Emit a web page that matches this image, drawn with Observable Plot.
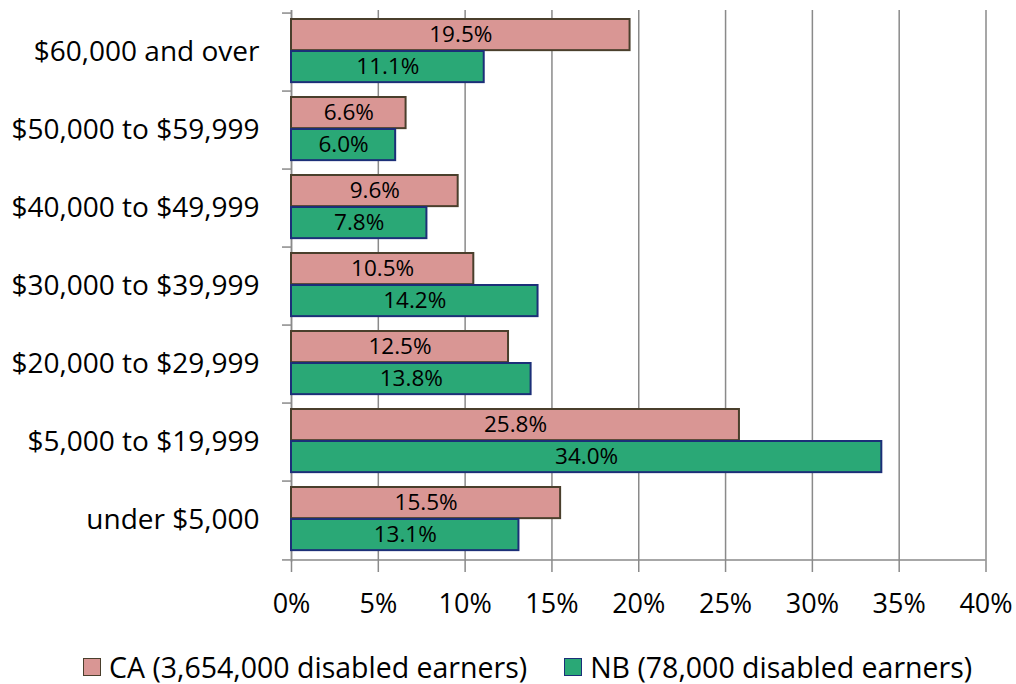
<!DOCTYPE html>
<html>
<head>
<meta charset="utf-8">
<script src="https://cdn.jsdelivr.net/npm/d3@7"></script>
<script src="https://cdn.jsdelivr.net/npm/@observablehq/plot@0.6"></script>
<style>
  html, body { margin: 0; padding: 0; background: #fff; }
  body { width: 1016px; height: 684px; overflow: hidden; font-family: "Open Sans", sans-serif; }
  #legend { display: flex; align-items: center; height: 34px; padding-top: 14px; padding-left: 83px; gap: 37px; font-size: 28.5px; color: #000; }
  .item { display: flex; align-items: center; gap: 8px; white-space: nowrap; }
  .sw { width: 16px; height: 16px; border: 1.5px solid; }
</style>
</head>
<body>
<div id="chart"></div>
<div id="legend"></div>
<script>
const categories = ["$60,000 and over", "$50,000 to $59,999", "$40,000 to $49,999", "$30,000 to $39,999", "$20,000 to $29,999", "$5,000 to $19,999", "under $5,000"];
const caValues = [19.5, 6.6, 9.6, 10.5, 12.5, 25.8, 15.5];
const nbValues = [11.1, 6.0, 7.8, 14.2, 13.8, 34.0, 13.1];
const xTicks = [0, 5, 10, 15, 20, 25, 30, 35, 40];
const seriesNames = ["CA (3,654,000 disabled earners)", "NB (78,000 disabled earners)"];

const caFill = "#d99694", caStroke = "#4a3f2c";
const nbFill = "#2aa876", nbStroke = "#1c2f78";
const gridColor = "#8a8a8a";

const caData = categories.map((c, i) => ({category: c, value: caValues[i]}));
const nbData = categories.map((c, i) => ({category: c, value: nbValues[i]}));

const W = 1016, H = 636, mt = 10, mb = 74, ml = 291, mr = 30.5;
const step = (H - mt - mb) / categories.length;

const chart = Plot.plot({
  width: W, height: H,
  marginTop: mt, marginBottom: mb, marginLeft: ml, marginRight: mr,
  style: {fontFamily: "'Open Sans', sans-serif", color: "#000", background: "#fff"},
  x: {domain: [0, 40]},
  y: {domain: categories, padding: 0},
  marks: [
    Plot.gridX(xTicks, {stroke: gridColor, strokeOpacity: 1, strokeWidth: 1.5}),
    Plot.ruleX([0], {stroke: gridColor, strokeWidth: 1.5}),
    Plot.ruleY([categories[categories.length - 1]], {stroke: gridColor, strokeWidth: 1.5, dy: step / 2}),
    Plot.axisX(xTicks, {anchor: "bottom", tickSize: 10, tickPadding: 21, tickFormat: d => d + "%", stroke: gridColor, strokeWidth: 1.5, fontSize: 27, label: null}),
    Plot.axisY({anchor: "left", tickSize: 0, tickPadding: 32, fontSize: 28, label: null}),
    Plot.axisY({anchor: "left", tickSize: 9, tickFormat: () => "", stroke: gridColor, strokeWidth: 1.5, dy: -step / 2, label: null}),
    Plot.axisY([categories[categories.length - 1]], {anchor: "left", tickSize: 9, tickFormat: () => "", stroke: gridColor, strokeWidth: 1.5, dy: step / 2, label: null}),
    Plot.barX(caData, {x: "value", y: "category", fill: caFill, stroke: caStroke, strokeWidth: 2, insetTop: 6, insetBottom: step - 38}),
    Plot.barX(nbData, {x: "value", y: "category", fill: nbFill, stroke: nbStroke, strokeWidth: 2, insetTop: 38, insetBottom: step - 70}),
    Plot.text(caData, {x: d => d.value / 2, y: "category", text: d => d.value.toFixed(1) + "%", dy: 22 - step / 2, fontSize: 22.5, fill: "#000"}),
    Plot.text(nbData, {x: d => d.value / 2, y: "category", text: d => d.value.toFixed(1) + "%", dy: 54 - step / 2, fontSize: 22.5, fill: "#000"})
  ]
});
document.getElementById("chart").appendChild(chart);

const legend = document.getElementById("legend");
[[seriesNames[0], caFill, caStroke], [seriesNames[1], nbFill, nbStroke]].forEach(([name, fill, stroke]) => {
  const item = document.createElement("div");
  item.className = "item";
  const sw = document.createElement("span");
  sw.className = "sw";
  sw.style.background = fill;
  sw.style.borderColor = stroke;
  const t = document.createElement("span");
  t.textContent = name;
  item.appendChild(sw);
  item.appendChild(t);
  legend.appendChild(item);
});
</script>
</body>
</html>
